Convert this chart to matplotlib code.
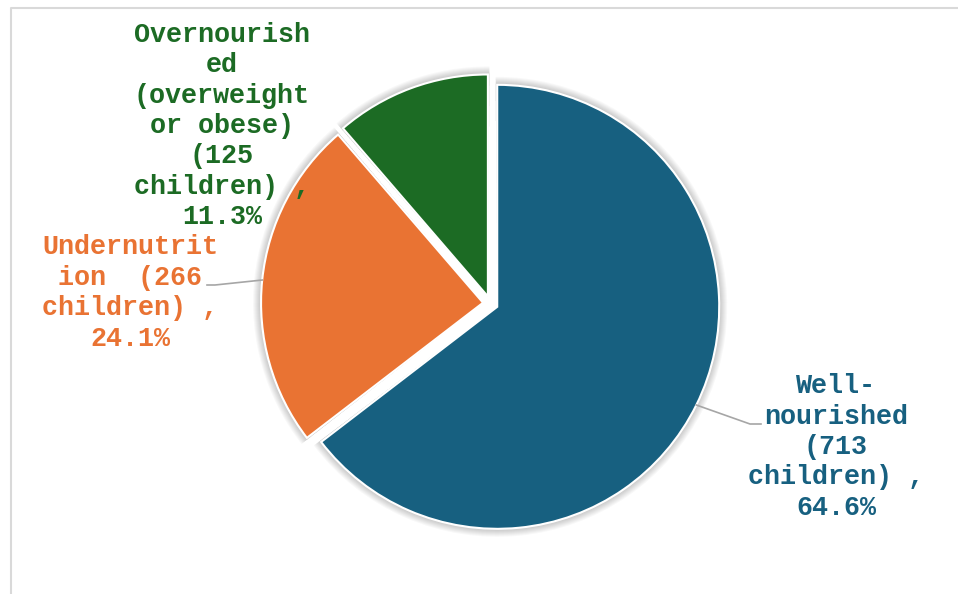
import numpy as np
import matplotlib.pyplot as plt
from matplotlib.patches import Wedge

# Data
labels = ['Well-\nnourished\n(713\nchildren) ,\n64.6%',
          'Undernutrit\nion  (266\nchildren) ,\n24.1%',
          'Overnourish\ned\n(overweight\nor obese)\n(125\nchildren) ,\n11.3%']
children = [713, 266, 125]
colors = ['#176080', '#E97333', '#1C6B24']

W, H = 958, 594
fig = plt.figure(figsize=(W / 100, H / 100), dpi=100)
ax = fig.add_axes([0, 0, 1, 1])

# chart frame (light grey top and left edges)
ax.plot([11, 11, W], [0, H - 8, H - 8], color='#D9D9D9', lw=1.5)

cx, cy, r = 490.5, H - 303.5, 222
wedges, _ = ax.pie(children, colors=colors, startangle=90, counterclock=False,
                   center=(cx, cy), radius=r, explode=[7.5, 7.5, 7.5],
                   wedgeprops=dict(edgecolor='white', linewidth=1.5), frame=True)
ax.set_xlim(0, W)
ax.set_ylim(0, H)
ax.set_aspect('equal')
ax.axis('off')

# soft shadow behind each slice
for w in wedges:
    w.set_zorder(3)
    for k in range(1, 9):
        ax.add_patch(Wedge(w.center, w.r + k, w.theta1 - 0.4, w.theta2 + 0.4,
                           facecolor='#000000', alpha=0.028, lw=0, zorder=2))

# labels: text centre positions (pixel layout) and optional leader elbows
text_pos = [(836, H - 447), (130, H - 293), (222, H - 126)]
leaders = [[(750, H - 424), (761, H - 424)],
           [(215, H - 285), (207, H - 285)],
           None]

for w, lab, col, pos, lead in zip(wedges, labels, colors, text_pos, leaders):
    ax.text(pos[0], pos[1], lab, ha='center', va='center', color=col,
            family='Liberation Mono', fontweight='bold', fontsize=19.3,
            linespacing=1.22, zorder=5)
    if lead is not None:
        ang = np.deg2rad((w.theta1 + w.theta2) / 2)
        sx = w.center[0] + w.r * np.cos(ang)
        sy = w.center[1] + w.r * np.sin(ang)
        xs = [sx] + [p[0] for p in lead]
        ys = [sy] + [p[1] for p in lead]
        ax.plot(xs, ys, color='#A6A6A6', lw=1.2, zorder=4)

fig.savefig('out.png', dpi=100)
